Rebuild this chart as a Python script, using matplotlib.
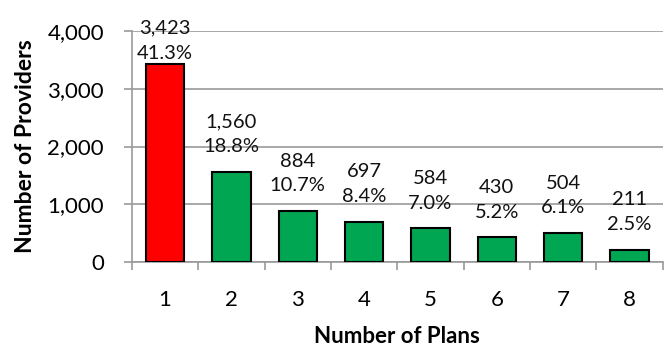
import matplotlib.pyplot as plt
import numpy as np

plans = ["1", "2", "3", "4", "5", "6", "7", "8"]
providers = [3423, 1560, 884, 697, 584, 430, 504, 211]
shares = ["41.3%", "18.8%", "10.7%", "8.4%", "7.0%", "5.2%", "6.1%", "2.5%"]
yticks = [0, 1000, 2000, 3000, 4000]

plt.rcParams["font.family"] = ["Lato", "DejaVu Sans"]

fig = plt.figure(figsize=(6.66, 3.48), dpi=100)
ax = fig.add_axes([0.198, 0.247, 0.797, 0.664])

x = np.arange(len(plans))
colors = ["#ff0000"] + ["#00a651"] * (len(plans) - 1)
ax.bar(x, providers, width=0.58, color=colors, edgecolor="black",
       linewidth=1.5, zorder=3)

ymax = yticks[-1]
for xi, v, s in zip(x, providers, shares):
    # tall bars get pushed down so the label stays inside the figure
    off = 2 if v > 0.75 * ymax else 12
    ax.annotate(f"{v:,}\n{s}", (xi, v), xytext=(0, off), textcoords="offset points",
                ha="center", va="bottom", fontsize=14.5, linespacing=1.55,
                color="#111111", zorder=4, annotation_clip=False)

ax.set_xlim(-0.5, len(plans) - 0.5)
ax.set_ylim(0, ymax)
ax.set_yticks(yticks)
ax.set_yticklabels([f"{t:,}" for t in yticks], fontsize=16)
ax.set_xticks(x)
ax.set_xticklabels(plans, fontsize=16)
ax.set_xticks(np.arange(-0.5, len(plans), 1), minor=True)
ax.tick_params(axis="x", which="major", length=0, pad=20)
ax.tick_params(axis="x", which="minor", length=6, color="#999999", width=1.2)
ax.tick_params(axis="y", length=6, color="#999999", width=1.2, pad=14)

ax.grid(axis="y", color="#999999", linewidth=1.2, zorder=0)
for side in ["top", "right"]:
    ax.spines[side].set_visible(False)
ax.spines["left"].set_color("#999999")
ax.spines["bottom"].set_color("#999999")
ax.spines["left"].set_linewidth(1.2)
ax.spines["bottom"].set_linewidth(1.2)

ax.set_xlabel("Number of Plans", fontsize=16, fontweight="bold", labelpad=12)
ax.set_ylabel("Number of Providers", fontsize=16.5, fontweight="bold", labelpad=8)

fig.savefig("out.png", dpi=100)
